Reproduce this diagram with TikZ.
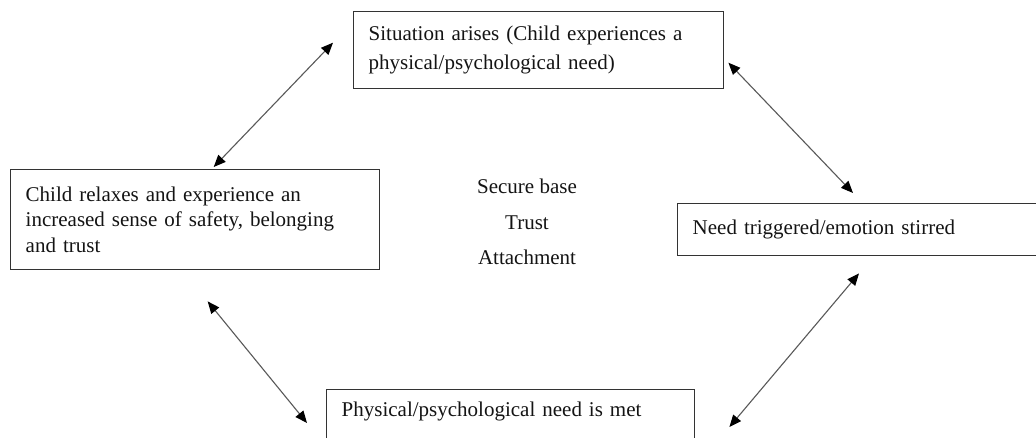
\documentclass[tikz,border=0pt]{standalone}
\usepackage{fontspec}
\setmainfont{Liberation Serif}
\usetikzlibrary{arrows.meta,calc}
\begin{document}
\begin{tikzpicture}[x=1pt,y=-1pt,
  box/.style={draw=black!80,line width=1.4pt,anchor=north west,inner xsep=15pt,inner ysep=0pt,align=left,text=black!92,font=\fontsize{21}{29}\selectfont},
  conn/.style={black!65,line width=1.1pt,{Triangle[length=12pt,width=10pt,black]}-{Triangle[length=12pt,width=10pt,black]}}]
\useasboundingbox (0,0) rectangle (1036,437);
\clip (0,0) rectangle (1036,437);
\fill[white] (0,0) rectangle (1036,437);
\node[box,text width=340pt,minimum height=77pt] (top) at (353,11)
  {Situation arises (Child experiences a\\physical/psychological need)};
\node[box,text width=339pt,minimum height=100pt,font=\fontsize{21}{25.5}\selectfont] (left) at (10,169)
  {Child relaxes and experience an\\increased sense of safety, belonging\\and trust\\[-6pt]};
\node[box,text width=333pt,minimum height=52pt] (right) at (677,203)
  {Need triggered/emotion stirred\\[4pt]};
\node[box,text width=338pt,text height=27pt,text depth=40pt] (bottom) at (326,389)
  {Physical/psychological need is met};
\node[align=center,text=black!92,font=\fontsize{21}{35.5}\selectfont] (mid) at (527,222)
  {Secure base\\Trust\\Attachment};
\draw[conn] ($(top.west)+(-20,-7.5)$) -- ($(left.north)+(18.5,-2)$);
\draw[conn] ($(top.east)+(4,12.5)$) -- ($(right.north west)+(176,-10)$);
\draw[conn] ($(right.south west)+(182,17)$) -- ($(bottom.north east)+(34,38)$);
\draw[conn] ($(left.south)+(12.5,31)$) -- ($(bottom.north west)+(-19,34)$);
\end{tikzpicture}
\end{document}
